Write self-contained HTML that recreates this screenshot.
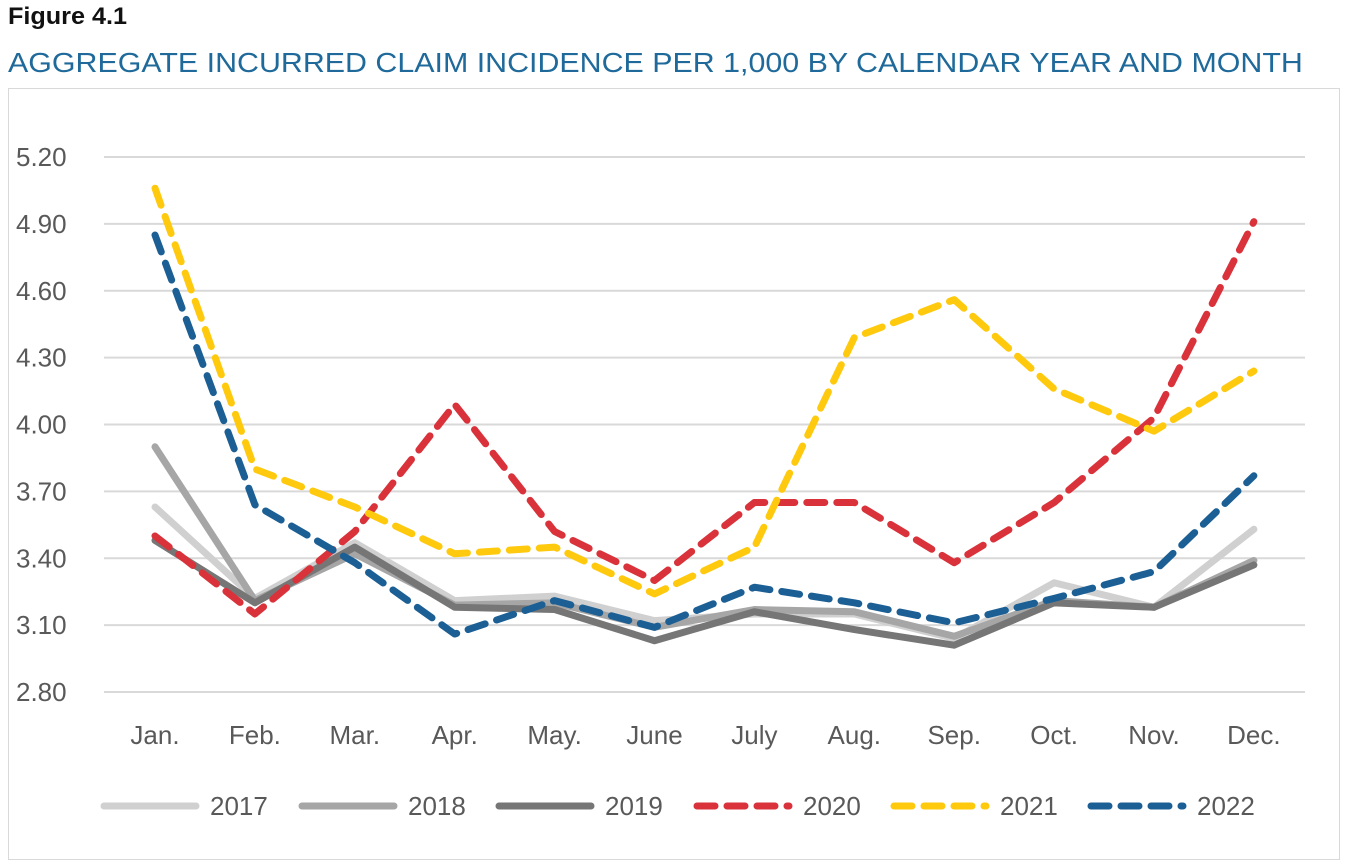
<!DOCTYPE html>
<html><head><meta charset="utf-8"><style>
body{margin:0;background:#fff;width:1350px;height:864px;overflow:hidden;font-family:"Liberation Sans",sans-serif}
</style></head><body>
<div style="position:absolute;left:8px;top:3px;font-size:24px;font-weight:bold;color:#111;transform:scaleX(1.05);transform-origin:left">Figure 4.1</div>
<div style="position:absolute;left:8px;top:47px;font-size:28px;color:#1f6a9a;white-space:nowrap;transform:scaleX(1.085);transform-origin:left">AGGREGATE INCURRED CLAIM INCIDENCE PER 1,000 BY CALENDAR YEAR AND MONTH</div>
<svg id="c" width="1350" height="864" style="position:absolute;left:0;top:0">
<rect x="8.5" y="88.5" width="1331" height="771" fill="none" stroke="#d9d9d9"/>
</svg>
<script>
const months=["Jan.","Feb.","Mar.","Apr.","May.","June","July","Aug.","Sep.","Oct.","Nov.","Dec."];
const yTicks=[2.80,3.10,3.40,3.70,4.00,4.30,4.60,4.90,5.20];
const seriesNames=["2017","2018","2019","2020","2021","2022"];
const s2017=[3.63,3.22,3.47,3.21,3.23,3.12,3.15,3.15,3.04,3.29,3.18,3.53];
const s2018=[3.90,3.21,3.42,3.19,3.20,3.09,3.17,3.16,3.05,3.21,3.18,3.39];
const s2019=[3.48,3.20,3.45,3.18,3.17,3.03,3.16,3.08,3.01,3.20,3.18,3.37];
const s2020=[3.50,3.15,3.52,4.09,3.52,3.30,3.65,3.65,3.38,3.65,4.03,4.91];
const s2021=[5.06,3.80,3.63,3.42,3.45,3.24,3.45,4.39,4.56,4.16,3.97,4.24];
const s2022=[4.85,3.64,3.38,3.06,3.21,3.09,3.27,3.20,3.11,3.22,3.34,3.77];
const svg=document.getElementById('c');const NS="http://www.w3.org/2000/svg";
const y=v=>692-(v-2.8)*(692-157)/2.4;
const x=i=>155+i*99.9;
function mk(t,a){const e=document.createElementNS(NS,t);for(const k in a)e.setAttribute(k,a[k]);svg.appendChild(e);return e;}
yTicks.forEach(v=>{
 const g=mk('line',{x1:104,x2:1305,y1:y(v),y2:y(v),stroke:'#d9d9d9','stroke-width':2});
 
 
 const t=mk('text',{x:16,y:y(v)+9,'font-size':26,fill:'#595959'});t.textContent=v.toFixed(2);
 
 
});
months.forEach((m,i)=>{const t=mk('text',{x:x(i),y:744,'font-size':26,fill:'#595959','text-anchor':'middle'});t.textContent=m;
 
 });
const data=[s2017,s2018,s2019,s2020,s2021,s2022];
const cols=['#d0d0d0','#a6a6a6','#767676','#d9323a','#ffc90e','#1b5f94'];
const dash=[null,null,null,'18 12','18 12','18 12'];
const lx=[100,298,495,693,890,1087];
data.forEach((d,k)=>{
 const p=mk('polyline',{points:d.map((v,i)=>x(i)+','+y(v)).join(' '),fill:'none',stroke:cols[k],'stroke-width':7,'stroke-linecap':'round','stroke-linejoin':'round'});
 if(dash[k])p.setAttribute('stroke-dasharray',dash[k]);
 
 
 const l=mk('line',{x1:lx[k]+4,x2:lx[k]+96,y1:806,y2:806,stroke:cols[k],'stroke-width':7,'stroke-linecap':'round'});
 if(dash[k])l.setAttribute('stroke-dasharray',dash[k]);
 
 
 const t=mk('text',{x:lx[k]+110,y:815,'font-size':26,fill:'#595959'});t.textContent=seriesNames[k];
 
 
});
</script>
</body></html>
